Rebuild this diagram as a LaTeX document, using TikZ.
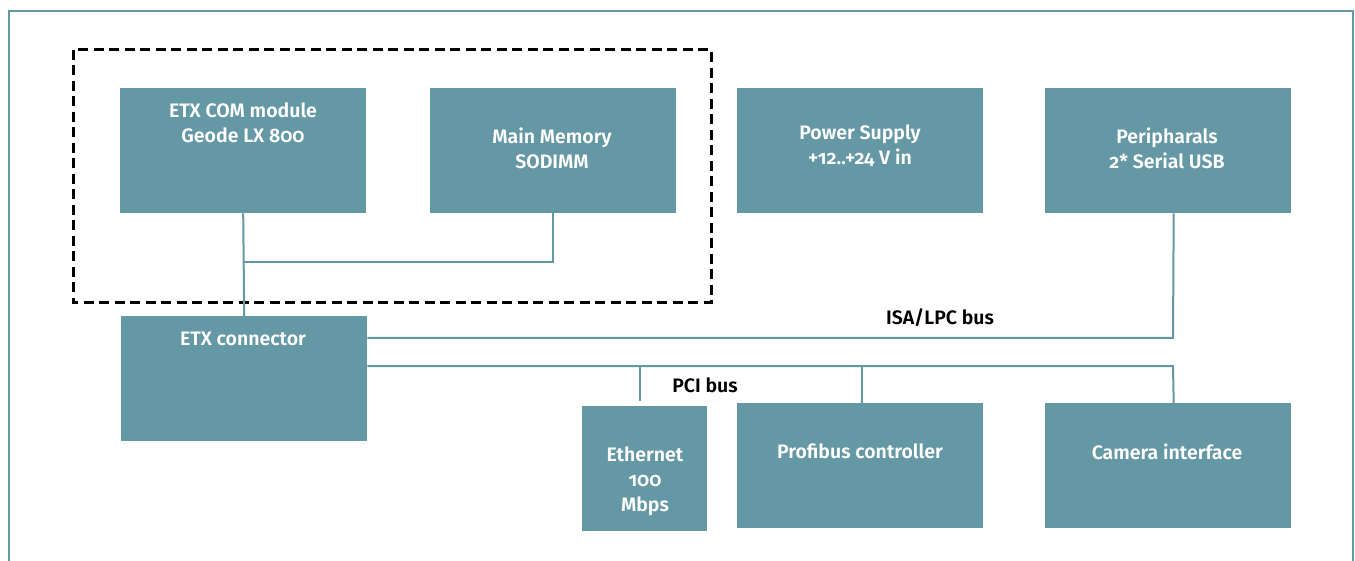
\documentclass[tikz,border=0pt]{standalone}
\usepackage{fontspec}
\setmainfont{Fira Sans}[RawFeature=+onum, BoldFont=Fira Sans SemiBold]
\definecolor{teal1}{RGB}{101,152,165}
\begin{document}
\begin{tikzpicture}[x=1pt,y=-1pt,
  box/.style={fill=teal1,draw=none,minimum width=246pt,minimum height=125pt,anchor=north west,inner sep=0pt},
  txt/.style={text=white,font=\fontsize{19.5}{25}\selectfont\bfseries,align=center,anchor=north,inner sep=0pt},
  wire/.style={draw=teal1,line width=2pt},
  buslabel/.style={font=\fontsize{19.5}{20}\selectfont\bfseries,text=black,inner sep=0pt}]
\useasboundingbox (0,0) rectangle (1355,561);
% frame
\draw[teal1,line width=2pt] (9,561) -- (9,11) -- (1353,11) -- (1353,561);
% dashed group
\draw[black,line width=3pt,dash pattern=on 10pt off 5.5pt] (73,50) rectangle (711,303);
% boxes
\node[box] (com) at (120,88) {};
\node[box] (mem) at (430,88) {};
\node[box] (pow) at (737,88) {};
\node[box] (peri) at (1045,88) {};
\node[box] (conn) at (121,316) {};
\node[box,minimum width=125pt] (eth) at (582,406) {};
\node[box] (prof) at (737,403) {};
\node[box] (cam) at (1045,403) {};
% texts
\node[txt] at (243,102.5) {ETX COM module\\Geode LX 800};
\node[txt] at (552,127.5) {Main Memory\\SODIMM};
\node[txt] at (860,124.5) {Power Supply\\+12..+24 V in};
\node[txt] at (1167,127.5) {Peripharals\\2* Serial USB};
\node[txt] at (243,331.5) {ETX connector};
\node[txt] at (645,446.5) {Ethernet\\100\\Mbps};
\node[txt] at (860,443.5) {Profibus controller};
\node[txt] at (1167,443.5) {Camera interface};
% connectors
\coordinate (j) at (243,262);
\coordinate (isaend) at (1173,338);
\coordinate (pciend) at (1173,366);
\draw[wire] (com.south) -- (conn.north);
\draw[wire] (mem.south) |- (j);
\draw[wire] (conn.east |- isaend) -- (isaend) -- ([xshift=5.5pt]peri.south);
\draw[wire] (conn.east |- pciend) -- (pciend) -- ([xshift=5.5pt]cam.north);
\draw[wire] (640,366) -- (640,401);
\draw[wire] (prof.north -| 862,0) -- (862,366);
\node[buslabel] (isa) at (940,318) {ISA/LPC bus};
\node[buslabel] (pci) at (705,385) {PCI bus};
\end{tikzpicture}
\end{document}
